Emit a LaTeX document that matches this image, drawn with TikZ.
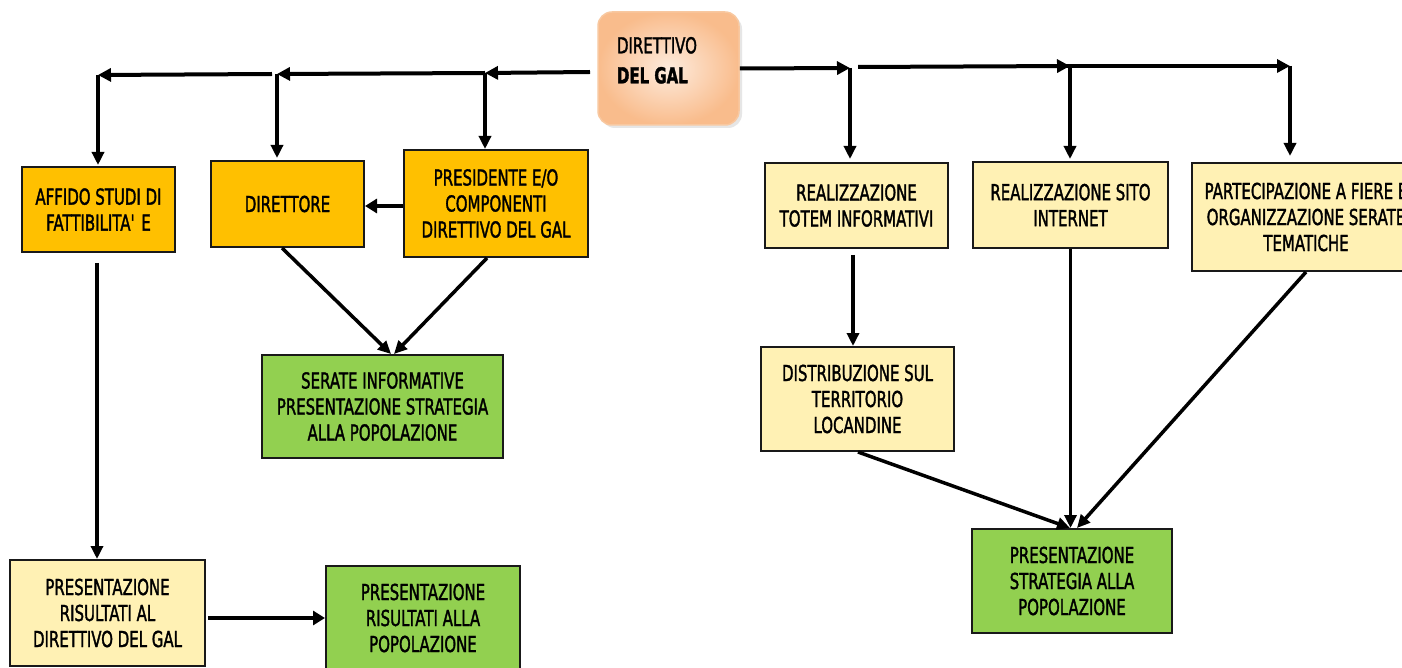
\documentclass[tikz,border=0pt]{standalone}
\usepackage{fontspec}
\setmainfont{DejaVu Sans}[FakeStretch=0.68, FakeBold=1.5]
\usetikzlibrary{arrows.meta,calc,shadows}
\definecolor{ofill}{HTML}{FFC000}
\definecolor{gfill}{HTML}{92D050}
\definecolor{yfill}{HTML}{FFF1B4}
\definecolor{dirout}{HTML}{F9BC8C}
\definecolor{dirin}{HTML}{FDEBDD}
\definecolor{dirdraw}{HTML}{F8C8A0}
\begin{document}
\begin{tikzpicture}[x=1pt,y=-1pt,
  box/.style={draw=black!90, line width=2pt, align=center, inner sep=0pt,
    font=\fontsize{22}{26}\selectfont},
  obox/.style={box, fill=ofill},
  gbox/.style={box, fill=gfill},
  ybox/.style={box, fill=yfill},
  arr/.style={line width=3.5pt, -{Triangle[length=13pt,width=12pt]}},
  top arr/.style={line width=4pt, -{Triangle[length=13pt,width=13pt]}},
  thick arr/.style={line width=4.5pt, -{Triangle[length=12pt,width=14pt]}},
]
\clip (0,0) rectangle (1402,668);
\fill[white] (0,0) rectangle (1402,668);

% central box
\node[rounded corners=14pt, draw=dirdraw, line width=1.5pt,
  shading=radial, inner color=dirin, outer color=dirout,
  drop shadow={shadow xshift=3pt, shadow yshift=-3pt, fill=black!12, opacity=0.8},
  minimum width=141pt, minimum height=113pt, inner sep=0pt,
  font=\fontsize{22}{30}\selectfont]
  (direttivo) at (668.5,68.5)
  {\parbox[c][63pt][t]{103pt}{DIRETTIVO\\\textbf{DEL GAL}}};

% left branch
\node[obox, minimum width=153pt, minimum height=85pt] (affido) at (98.5,209.5)
  {AFFIDO STUDI DI\\FATTIBILITA\textquotesingle{} E};
\node[obox, minimum width=153pt, minimum height=86pt] (direttore) at (287.5,204)
  {DIRETTORE};
\node[obox, minimum width=184pt, minimum height=107pt] (presidente) at (496,203.5)
  {PRESIDENTE E/O\\COMPONENTI\\DIRETTIVO DEL GAL};
\node[gbox, minimum width=241pt, minimum height=103pt] (serate) at (382.5,406.5)
  {SERATE INFORMATIVE\\PRESENTAZIONE STRATEGIA\\ALLA POPOLAZIONE};
\node[ybox, minimum width=195pt, minimum height=106pt] (presris) at (107.5,613)
  {PRESENTAZIONE\\RISULTATI AL\\DIRETTIVO DEL GAL};
\node[gbox, minimum width=194pt, minimum height=104pt] (presrispop) at (423,618)
  {PRESENTAZIONE\\RISULTATI ALLA\\POPOLAZIONE};

% right branch
\node[ybox, minimum width=183pt, minimum height=85pt] (totem) at (856.5,205.5)
  {REALIZZAZIONE\\TOTEM INFORMATIVI};
\node[ybox, minimum width=195pt, minimum height=86pt] (sito) at (1070.5,205)
  {REALIZZAZIONE SITO\\INTERNET};
\node[ybox, minimum width=228pt, minimum height=108pt] (part) at (1306,217)
  {PARTECIPAZIONE A FIERE E\\ORGANIZZAZIONE SERATE\\TEMATICHE};
\node[ybox, minimum width=193pt, minimum height=104pt] (distrib) at (857.5,399)
  {DISTRIBUZIONE SUL\\TERRITORIO\\LOCANDINE};
\node[gbox, minimum width=200pt, minimum height=104pt] (strat) at (1072,581)
  {PRESENTAZIONE\\STRATEGIA ALLA\\POPOLAZIONE};

% top left line
\coordinate (ls) at (590,72);
\coordinate (j1) at (485,73);
\coordinate (j2) at (277,74);
\coordinate (j2b) at (272,74);
\coordinate (j3) at (98,75);
\draw[top arr] (ls) -- (j1);
\draw[top arr] (j1) -- (j2);
\draw[top arr] (j2b) -- (j3);
\draw[arr] (j1) -- (j1 |- presidente.north);
\draw[arr, shorten >=2pt] (j2) -- (j2 |- direttore.north);
\draw[arr, shorten >=1pt] (j3) -- (j3 |- affido.north);

% top right line
\coordinate (k1) at (850,68);
\coordinate (k1b) at (858,67);
\coordinate (k2) at (1070,66);
\coordinate (k2b) at (1045,66);
\coordinate (k3) at (1290,66);
\draw[top arr] (direttivo.east) -- (k1);
\draw[top arr] (k1b) -- (k2);
\draw[top arr] (k2b) -- (k3);
\draw[arr, shorten >=3pt] (k1) -- (k1 |- totem.north);
\draw[arr, shorten >=2pt] (k2) -- (k2 |- sito.north);
\draw[arr, shorten >=6pt] (k3) -- (k3 |- part.north);

% left lower connectors
\draw[thick arr] ([yshift=-2.5pt]presidente.west) -- ([yshift=-2.5pt]presidente.west -| direttore.east);
\draw[arr] ([xshift=-5.5pt]direttore.south) -- ([xshift=8.5pt]serate.north);
\draw[arr] ([xshift=-9pt]presidente.south) -- ([xshift=11.5pt]serate.north);
\draw[arr] ([xshift=-1.5pt,yshift=-10pt]affido.south) coordinate (a1) -- (a1 |- presris.north);
\draw[thick arr] ([xshift=2pt]presris.east |- presrispop.west) -- (presrispop.west);

% right lower connectors
\draw[arr] ([xshift=-3.5pt,yshift=-6pt]totem.south) -- ([xshift=-4.5pt]distrib.north);
\draw[arr] ([xshift=0.5pt]distrib.south) -- ([xshift=-2pt]strat.north);
\draw[arr] (sito.south) -- (sito.south |- strat.north);
\draw[arr] (part.south) -- ([xshift=5pt]strat.north);
\end{tikzpicture}
\end{document}
